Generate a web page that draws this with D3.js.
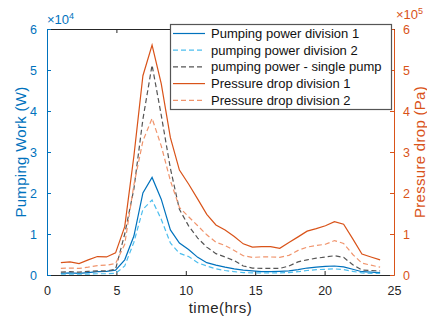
<!DOCTYPE html>
<html>
<head>
<meta charset="utf-8">
<script src="https://cdn.jsdelivr.net/npm/d3@7"></script>
<style>
body { margin: 0; background: #fff; }
svg { display: block; font-family: "Liberation Sans", Arial, sans-serif; }
</style>
</head>
<body>
<svg width="427" height="318"></svg>
<script>
// time axis (hrs)
var hours = [1.00, 1.66, 2.31, 2.97, 3.63, 4.29, 4.94, 5.60, 6.26, 6.91, 7.57, 8.23,
             8.89, 9.54, 10.20, 10.86, 11.51, 12.17, 12.83, 13.49, 14.14, 14.80, 15.46, 16.11,
             16.77, 17.43, 18.09, 18.74, 19.40, 20.06, 20.71, 21.37, 22.03, 22.69, 23.34, 24.00];

// pumping power (W)
var pumpDiv1 = [400, 500, 400, 600, 800, 900, 1200, 3700, 9500, 20000, 23800, 18500,
                11000, 7800, 6200, 4300, 3000, 2400, 1900, 1500, 1200, 1000, 800, 800,
                900, 1000, 1300, 1700, 1900, 2100, 2200, 2000, 1400, 800, 700, 600];
var pumpDiv2 = [200, 200, 200, 200, 300, 300, 400, 2200, 8000, 16000, 18300, 13600,
                7800, 5300, 4500, 3000, 2200, 1500, 1100, 800, 600, 500, 500, 500,
                500, 600, 800, 1100, 1300, 1400, 1500, 1300, 900, 500, 400, 400];
var pumpSingle = [700, 800, 700, 900, 1000, 1000, 1400, 10000, 21000, 38000, 51200, 39000,
                  26000, 16000, 12000, 9000, 6800, 5200, 4400, 3500, 2200, 1700, 1600, 1600,
                  1600, 2200, 3200, 3700, 4100, 4400, 4700, 4300, 2500, 1200, 1100, 1000];

// pressure drop (Pa)
var dropDiv1 = [30000, 32000, 28000, 37000, 45000, 44000, 54000, 118000, 290000, 486000, 561000, 467000,
                335000, 256000, 222000, 185000, 148000, 122000, 110000, 94000, 76000, 68000, 69000, 69000,
                65000, 79000, 93000, 107000, 113000, 120000, 130000, 124000, 88000, 51000, 44000, 37000];
var dropDiv2 = [16000, 17000, 16000, 19000, 23000, 24000, 28000, 75000, 220000, 327000, 382000, 315000,
                230000, 165000, 142000, 120000, 98000, 80000, 72000, 60000, 47000, 43000, 44000, 44000,
                43000, 48000, 60000, 68000, 72000, 75000, 84000, 77000, 50000, 29000, 24000, 19000];

var xTicks = [0, 5, 10, 15, 20, 25];
var leftTicks = [0, 10000, 20000, 30000, 40000, 50000, 60000];
var rightTicks = [0, 100000, 200000, 300000, 400000, 500000, 600000];

var legendLabels = ["Pumping power division 1", "pumping power division 2",
                    "pumping power - single pump", "Pressure drop division 1",
                    "Pressure drop division 2"];

var blue = "#0072BD", lightBlue = "#4DBEEE", grey = "#555555",
    orange = "#D95319", lightOrange = "#F0946C", axisCol = "#262626";

var svg = d3.select("svg");
var margin = {top: 29, right: 33, bottom: 43, left: 47};
var width = +svg.attr("width"), height = +svg.attr("height");

var x = d3.scaleLinear().domain([0, 25]).range([margin.left, width - margin.right]);
var yL = d3.scaleLinear().domain([0, 60000]).range([height - margin.bottom, margin.top]);
var yR = d3.scaleLinear().domain([0, 600000]).range([height - margin.bottom, margin.top]);

// axes
var gx = svg.append("g")
    .attr("transform", "translate(0," + (height - margin.bottom) + ")")
    .call(d3.axisBottom(x).tickValues(xTicks).tickSizeInner(-4).tickSizeOuter(0).tickPadding(11));
var gTop = svg.append("g")
    .attr("transform", "translate(0," + margin.top + ")")
    .call(d3.axisTop(x).tickValues(xTicks).tickSizeInner(-4).tickSizeOuter(0).tickFormat(""));
var gl = svg.append("g")
    .attr("transform", "translate(" + margin.left + ",0)")
    .call(d3.axisLeft(yL).tickValues(leftTicks).tickSizeInner(-4).tickSizeOuter(0).tickPadding(10)
        .tickFormat(function(d) { return d / 10000; }));
var gr = svg.append("g")
    .attr("transform", "translate(" + (width - margin.right) + ",0)")
    .call(d3.axisRight(yR).tickValues(rightTicks).tickSizeInner(-4).tickSizeOuter(0).tickPadding(9)
        .tickFormat(function(d) { return d / 100000; }));

svg.selectAll("g").attr("font-family", null).attr("font-size", null);
[gx, gTop].forEach(function(g) {
    g.select(".domain").attr("stroke", axisCol);
    g.selectAll(".tick line").attr("stroke", axisCol);
    g.selectAll("text").attr("fill", axisCol).style("font-size", "12.5px");
});
gl.select(".domain").attr("stroke", blue);
gl.selectAll(".tick line").attr("stroke", blue);
gl.selectAll("text").attr("fill", blue).style("font-size", "12.5px");
gr.select(".domain").attr("stroke", orange);
gr.selectAll(".tick line").attr("stroke", orange);
gr.selectAll("text").attr("fill", orange).style("font-size", "12.5px");

// exponent labels
var expL = svg.append("text").attr("x", margin.left).attr("y", 24)
    .attr("fill", blue).style("font-size", "13px").text("\u00d710");
expL.append("tspan").attr("dy", -5).style("font-size", "9px").text("4");
var expR = svg.append("text").attr("x", width - margin.right + 2).attr("y", 19)
    .attr("fill", orange).style("font-size", "13px").text("\u00d710");
expR.append("tspan").attr("dy", -5).style("font-size", "9px").text("5");

// axis titles
svg.append("text")
    .attr("transform", "translate(26," + ((margin.top + height - margin.bottom) / 2) + ") rotate(-90)")
    .attr("text-anchor", "middle").attr("fill", blue)
    .style("font-size", "15px").style("letter-spacing", "0.3px")
    .text("Pumping Work (W)");
svg.append("text")
    .attr("transform", "translate(425," + ((margin.top + height - margin.bottom) / 2) + ") rotate(-90)")
    .attr("text-anchor", "middle").attr("fill", orange)
    .style("font-size", "15px").style("letter-spacing", "0.3px")
    .text("Pressure drop (Pa)");
svg.append("text")
    .attr("x", (margin.left + width - margin.right) / 2).attr("y", 313)
    .attr("text-anchor", "middle").attr("fill", axisCol)
    .style("font-size", "15px").style("letter-spacing", "0.5px")
    .text("time(hrs)");

// series
var series = [
    {values: pumpDiv1, scale: yL, color: blue, dash: null},
    {values: pumpDiv2, scale: yL, color: lightBlue, dash: "5,3"},
    {values: pumpSingle, scale: yL, color: grey, dash: "5,3"},
    {values: dropDiv1, scale: yR, color: orange, dash: null},
    {values: dropDiv2, scale: yR, color: lightOrange, dash: "5,3"}
];

series.forEach(function(s) {
    var line = d3.line()
        .x(function(d, i) { return x(hours[i]); })
        .y(function(d) { return s.scale(d); });
    svg.append("path")
        .datum(s.values)
        .attr("fill", "none")
        .attr("stroke", s.color)
        .attr("stroke-width", 1.2)
        .attr("stroke-dasharray", s.dash)
        .attr("d", line);
});

// legend
var lg = svg.append("g").attr("class", "legend");
lg.append("rect")
    .attr("x", 170.5).attr("y", 24.5).attr("width", 221).attr("height", 85)
    .attr("fill", "#fff").attr("stroke", "#555").attr("stroke-width", 1.2);
series.forEach(function(s, i) {
    var yy = 33.5 + i * 16.7;
    lg.append("line")
        .attr("x1", 173).attr("x2", 205).attr("y1", yy).attr("y2", yy)
        .attr("stroke", s.color).attr("stroke-width", 1.2)
        .attr("stroke-dasharray", s.dash);
    lg.append("text")
        .attr("x", 211).attr("y", yy).attr("dy", "0.35em")
        .attr("fill", "#111").style("font-size", "13px")
        .text(legendLabels[i]);
});
</script>
</body>
</html>
